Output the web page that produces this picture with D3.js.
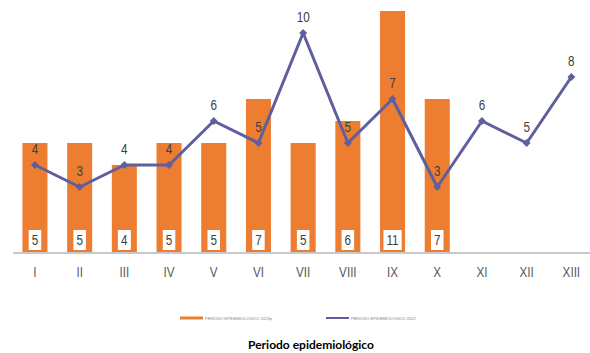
<!DOCTYPE html>
<html>
<head>
<meta charset="utf-8">
<script src="https://cdn.jsdelivr.net/npm/d3@7"></script>
<style>
  html, body { margin: 0; padding: 0; background: #fff; }
  svg { display: block; }
  .narrow { font-family: "Liberation Sans Narrow", "Arial Narrow", "Liberation Sans", sans-serif; }
</style>
</head>
<body>
<svg id="chart" width="590" height="353"></svg>
<script>
// Epidemiological periods (I–XIII)
const periods = ["I", "II", "III", "IV", "V", "VI", "VII", "VIII", "IX", "X", "XI", "XII", "XIII"];
// 2023p cases per period (bars, only periods I–X reported)
const cases2023 = [5, 5, 4, 5, 5, 7, 5, 6, 11, 7];
// 2022 cases per period (line)
const cases2022 = [4, 3, 4, 4, 6, 5, 10, 5, 7, 3, 6, 5, 8];
// Legend entries
const seriesNames = ["PERIODO EPIDEMIOLÓGICO 2023p", "PERIODO EPIDEMIOLÓGICO 2022"];
const axisTitle = "Periodo epidemiológico";

const orange = "#ED7D31";
const purple = "#5F5E9E";
const labelColor = "#404040";
const squeeze = 0.78; // horizontal condensing for the narrow label style

const svg = d3.select("#chart");

const x = d3.scaleBand()
  .domain(periods)
  .range([12.6, 593.7])
  .paddingInner(0.44)
  .paddingOuter(0.22);

const y = d3.scaleLinear()
  .domain([0, 11.5])
  .range([253, 0]);

const cx = p => x(p) + x.bandwidth() / 2;

// Bars
const barData = cases2023.map((v, i) => ({ p: periods[i], v }));
svg.append("g").selectAll("rect")
  .data(barData)
  .join("rect")
  .attr("x", d => x(d.p))
  .attr("y", d => y(d.v))
  .attr("width", x.bandwidth())
  .attr("height", d => y(0) - y(d.v))
  .attr("fill", orange);

// Category axis
const axis = d3.axisBottom(x).tickSize(0).tickPadding(14);
const axisG = svg.append("g")
  .attr("transform", `translate(0,${y(0)})`)
  .call(axis);
axisG.select(".domain").attr("stroke", "#C9C9C9").attr("stroke-width", 2)
  .attr("d", `M13,0H590`);
axisG.selectAll(".tick text")
  .attr("class", "narrow")
  .attr("font-size", 15)
  .attr("fill", "#595959")
  .attr("y", 13)
  .attr("transform", `scale(${squeeze},1)`);

// Bar value labels inside white boxes near the base
const barLabels = svg.append("g").attr("class", "narrow")
  .selectAll("g")
  .data(barData)
  .join("g")
  .attr("transform", d => `translate(${cx(d.p)},240)`);
barLabels.append("text")
  .attr("text-anchor", "middle")
  .attr("dy", "0.35em")
  .attr("font-size", 15)
  .attr("fill", labelColor)
  .attr("transform", `scale(${squeeze},1)`)
  .text(d => d.v);
barLabels.each(function () {
  const g = d3.select(this);
  const bb = g.select("text").node().getBBox();
  const w = bb.width * squeeze;
  g.insert("rect", "text")
    .attr("x", -w / 2 - 3)
    .attr("y", -10)
    .attr("width", w + 6)
    .attr("height", 20)
    .attr("fill", "#fff");
});

// 2022 line
const lineData = cases2022.map((v, i) => ({ p: periods[i], v }));
const line = d3.line().x(d => cx(d.p)).y(d => y(d.v));
svg.append("path")
  .datum(lineData)
  .attr("d", line)
  .attr("fill", "none")
  .attr("stroke", purple)
  .attr("stroke-width", 3)
  .attr("stroke-linejoin", "round");

// Diamond markers
svg.append("g").selectAll("path")
  .data(lineData)
  .join("path")
  .attr("transform", d => `translate(${cx(d.p)},${y(d.v)})`)
  .attr("d", d3.symbol(d3.symbolDiamond2, 40))
  .attr("fill", purple);

// Line value labels
svg.append("g").attr("class", "narrow")
  .selectAll("text")
  .data(lineData)
  .join("text")
  .attr("transform", d => `translate(${cx(d.p)},${y(d.v) - 11}) scale(${squeeze},1)`)
  .attr("text-anchor", "middle")
  .attr("font-size", 15)
  .attr("fill", labelColor)
  .text(d => d.v);

// Legend
const legend = svg.append("g").attr("font-family", "Liberation Sans, sans-serif");
const legendItems = [
  { name: seriesNames[0], color: orange, x0: 180 },
  { name: seriesNames[1], color: purple, x0: 326 }
];
legendItems.forEach(it => {
  legend.append("line")
    .attr("x1", it.x0).attr("x2", it.x0 + 23)
    .attr("y1", 318).attr("y2", 318)
    .attr("stroke", it.color).attr("stroke-width", it.color === orange ? 3 : 2);
  legend.append("text")
    .attr("x", it.x0 + 25)
    .attr("y", 319.5)
    .attr("font-size", 4)
    .attr("fill", "#808080")
    .text(it.name);
});

// Axis title
svg.append("text")
  .attr("x", 311)
  .attr("y", 349)
  .attr("text-anchor", "middle")
  .attr("font-family", "Lato, 'Open Sans', sans-serif")
  .attr("font-weight", "bold")
  .attr("font-size", 12)
  .attr("fill", "#000")
  .text(axisTitle);
</script>
</body>
</html>
